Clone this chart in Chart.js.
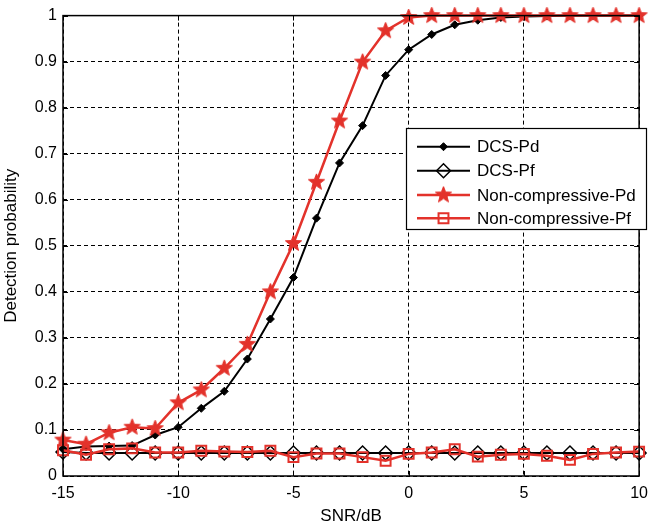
<!DOCTYPE html>
<html>
<head>
<meta charset="utf-8">
<script src="https://cdn.jsdelivr.net/npm/chart.js@4/dist/chart.umd.min.js"></script>
<style>
html,body{margin:0;padding:0;background:#fff;}
#wrap{width:656px;height:527px;position:relative;}
</style>
</head>
<body>
<div id="wrap"><canvas id="c" width="656" height="527"></canvas></div>
<script>
const snr = [-15,-14,-13,-12,-11,-10,-9,-8,-7,-6,-5,-4,-3,-2,-1,0,1,2,3,4,5,6,7,8,9,10];
const dcsPd = [0.058,0.064,0.065,0.066,0.089,0.106,0.147,0.184,0.254,0.341,0.431,0.560,0.680,0.761,0.870,0.926,0.959,0.980,0.990,0.996,0.998,0.999,1,1,1,1];
const dcsPf = [0.052,0.05,0.05,0.05,0.05,0.05,0.05,0.05,0.05,0.05,0.05,0.05,0.05,0.05,0.05,0.05,0.05,0.05,0.05,0.05,0.05,0.05,0.05,0.05,0.05,0.05];
const ncPd = [0.078,0.069,0.094,0.106,0.103,0.159,0.187,0.234,0.286,0.400,0.505,0.638,0.771,0.899,0.967,0.996,1,1,1,1,1,1,1,1,1,1];
const ncPf = [0.056,0.046,0.058,0.060,0.051,0.051,0.055,0.053,0.052,0.055,0.041,0.049,0.049,0.041,0.033,0.048,0.051,0.058,0.042,0.046,0.048,0.044,0.035,0.048,0.051,0.053];
const seriesNames = ['DCS-Pd','DCS-Pf','Non-compressive-Pd','Non-compressive-Pf'];
const xTickLabels = ['-15','-10','-5','0','5','10'];
const yTickLabels = ['0','0.1','0.2','0.3','0.4','0.5','0.6','0.7','0.8','0.9','1'];

const RED = '#e3322b';
const BLACK = '#000000';

function makeStar(outer, inner, color){
  const s = Math.ceil(outer*2+4);
  const cv = document.createElement('canvas');
  cv.width = s; cv.height = s;
  const g = cv.getContext('2d');
  const cx = s/2, cy = s/2;
  g.beginPath();
  for(let i=0;i<10;i++){
    const r = i%2===0 ? outer : inner;
    const a = -Math.PI/2 + i*Math.PI/5;
    const px = cx + r*Math.cos(a), py = cy + r*Math.sin(a);
    if(i===0) g.moveTo(px,py); else g.lineTo(px,py);
  }
  g.closePath();
  g.fillStyle = color; g.fill();
  g.lineWidth = 1; g.strokeStyle = color; g.stroke();
  return cv;
}
const starImg = makeStar(8.5, 3.6, RED);

function pts(arr){ return snr.map((x,i)=>({x:x,y:arr[i]})); }

const datasets = [
  {label:seriesNames[0], data:pts(dcsPd), borderColor:BLACK, backgroundColor:BLACK, borderWidth:2,
   pointStyle:'rectRot', pointRadius:4, pointBorderWidth:1, pointBackgroundColor:BLACK, pointBorderColor:BLACK, order:4, clip:false},
  {label:seriesNames[1], data:pts(dcsPf), borderColor:BLACK, backgroundColor:'rgba(0,0,0,0)', borderWidth:2,
   pointStyle:'rectRot', pointRadius:7, pointBorderWidth:1.5, pointBackgroundColor:'rgba(0,0,0,0)', pointBorderColor:BLACK, order:3, clip:false},
  {label:seriesNames[2], data:pts(ncPd), borderColor:RED, backgroundColor:RED, borderWidth:2.5,
   pointStyle:starImg, pointRadius:8, order:2, clip:false},
  {label:seriesNames[3], data:pts(ncPf), borderColor:RED, backgroundColor:'rgba(0,0,0,0)', borderWidth:2.5,
   pointStyle:'rect', pointRadius:7, pointBorderWidth:2, pointBackgroundColor:'rgba(0,0,0,0)', pointBorderColor:RED, order:1, clip:false}
];

const boxPlugin = {
  id:'boxPlugin',
  afterDatasetsDraw(chart){
    const ctx = chart.ctx, a = chart.chartArea;
    const xs = chart.scales.x, ys = chart.scales.y;
    ctx.save();
    ctx.strokeStyle = '#000'; ctx.lineWidth = 1.5; ctx.setLineDash([]);
    ctx.strokeRect(a.left, a.top, a.right-a.left, a.bottom-a.top);
    ctx.lineWidth = 1;
    ctx.beginPath();
    xs.ticks.forEach(t=>{
      const px = Math.round(xs.getPixelForValue(t.value))+0.5;
      ctx.moveTo(px, a.bottom); ctx.lineTo(px, a.bottom-5);
      ctx.moveTo(px, a.top); ctx.lineTo(px, a.top+5);
    });
    ys.ticks.forEach(t=>{
      const py = Math.round(ys.getPixelForValue(t.value))+0.5;
      ctx.moveTo(a.left, py); ctx.lineTo(a.left+5, py);
      ctx.moveTo(a.right, py); ctx.lineTo(a.right-5, py);
    });
    ctx.stroke();

    // legend box
    const L = 406, T = 128, R = 647, B = 230;
    ctx.fillStyle = '#fff';
    ctx.fillRect(L, T, R-L, B-T);
    ctx.strokeStyle = '#000'; ctx.lineWidth = 1.2;
    ctx.strokeRect(L+0.5, T+0.5, R-L-1, B-T-1);
    const rows = [146.7, 170.7, 195, 218.3];
    ctx.font = '17px "Liberation Sans", Arial, sans-serif';
    ctx.textBaseline = 'middle'; ctx.textAlign = 'left';
    chart.data.datasets.forEach((ds,i)=>{
      const y = rows[i];
      ctx.strokeStyle = ds.borderColor; ctx.lineWidth = ds.borderWidth;
      ctx.beginPath(); ctx.moveTo(417, y); ctx.lineTo(470, y); ctx.stroke();
      ctx.fillStyle = ds.pointBackgroundColor || ds.backgroundColor;
      ctx.strokeStyle = ds.pointBorderColor || ds.borderColor;
      ctx.lineWidth = ds.pointBorderWidth || 1;
      Chart.helpers.drawPoint(ctx, {pointStyle: ds.pointStyle, radius: ds.pointRadius, rotation:0, borderWidth: ds.pointBorderWidth||1}, 443.5, y);
      ctx.fillStyle = '#000';
      ctx.fillText(ds.label, 477, y+1);
    });
    ctx.restore();
  }
};

new Chart(document.getElementById('c'), {
  type:'line',
  data:{datasets:datasets},
  options:{
    responsive:false,
    animation:false,
    layout:{padding:{left:0,right:9,top:15,bottom:0}},
    plugins:{legend:{display:false}, tooltip:{enabled:false}},
    elements:{line:{tension:0}},
    scales:{
      x:{
        type:'linear', min:-15, max:10,
        afterFit(s){ s.height = 51; },
        ticks:{stepSize:5, color:'#000', padding:8, maxRotation:0,
          font:{family:'"Liberation Sans", Arial, sans-serif', size:16},
          callback:(v)=>{ const i = [-15,-10,-5,0,5,10].indexOf(v); return i>=0 ? xTickLabels[i] : ''; }},
        grid:{color:'#000', lineWidth:1, drawTicks:false},
        border:{display:false, dash:[4,3]},
        title:{display:true, text:'SNR/dB', color:'#000', padding:{top:0,bottom:0},
          font:{family:'"Liberation Sans", Arial, sans-serif', size:17}}
      },
      y:{
        min:0, max:1,
        afterFit(s){ s.width = 63; },
        ticks:{stepSize:0.1, color:'#000', padding:6,
          font:{family:'"Liberation Sans", Arial, sans-serif', size:16},
          callback:(v)=>{ const i = Math.round(v*10); return yTickLabels[i]; }},
        grid:{color:'#000', lineWidth:1, drawTicks:false},
        border:{display:false, dash:[4,3]},
        title:{display:true, text:'Detection probability', color:'#000', padding:{top:1,bottom:0},
          font:{family:'"Liberation Sans", Arial, sans-serif', size:17}}
      }
    }
  },
  plugins:[boxPlugin]
});
</script>
</body>
</html>
